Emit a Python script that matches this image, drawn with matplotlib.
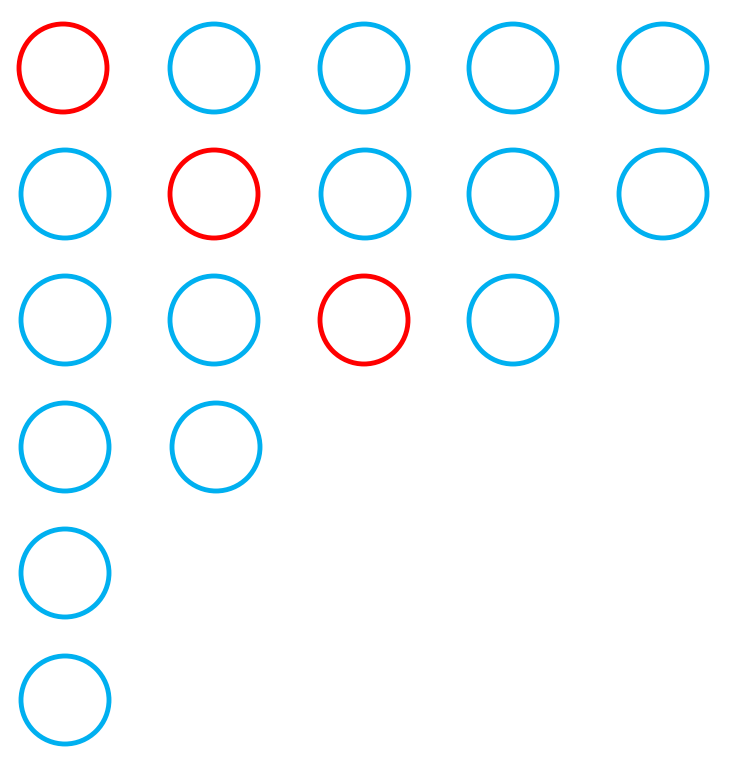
import matplotlib
matplotlib.use("Agg")
import matplotlib.pyplot as plt
from matplotlib.patches import Circle

# circle centres (pixel-like coordinates) and which ones are highlighted
cx = [63, 214, 364, 513, 663,
      65, 214, 365, 513, 663,
      65, 214, 364, 513,
      65, 216,
      65,
      65]
cy = [68, 68, 68, 68, 68,
      194, 194, 194, 194, 194,
      320, 320, 320, 320,
      447, 447,
      573,
      700]
highlight = [True, False, False, False, False,
             False, True, False, False, False,
             False, False, True, False,
             False, False,
             False,
             False]

blue = "#00B0F0"
red = "#FF0000"

fig = plt.figure(figsize=(7.29, 7.82), dpi=100)
ax = fig.add_axes([0, 0, 1, 1])
ax.set_xlim(0, 729)
ax.set_ylim(782, 0)
ax.axis("off")

for x, y, h in zip(cx, cy, highlight):
    ax.add_patch(Circle((x, y), 44, fill=False, edgecolor=red if h else blue,
                        linewidth=3.5))

fig.savefig("out.png", dpi=100)
